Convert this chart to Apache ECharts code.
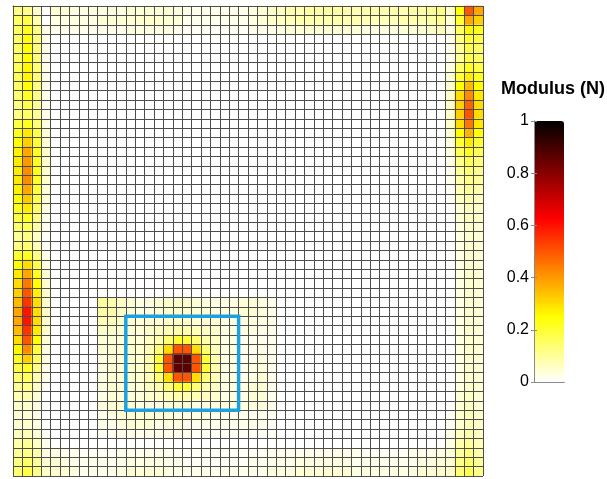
<!DOCTYPE html>
<html><head><meta charset="utf-8">
<script src="https://cdn.jsdelivr.net/npm/echarts@6/dist/echarts.min.js"></script>
<style>html,body{margin:0;padding:0;background:#fff}#c{width:607px;height:479px}</style>
</head><body><div id="c"></div>
<script>
// ---- data (values in hundredths of the colour scale) ----
const nCols = 50, nRows = 50;
const colorTicks = [0, 0.2, 0.4, 0.6, 0.8, 1];
const colorbarTitle = 'Modulus (N)';

// columns 0..3, rows 0..49 (row 0 = top)
const leftCols = [
 [12,12,5,0],[15,18,8,0],[15,22,12,2],[15,24,13,2],[15,25,13,2],[15,25,13,2],[16,26,14,2],[16,26,14,2],[15,25,13,2],[14,22,12,2],
 [12,18,10,1],[12,15,10,2],[18,22,14,3],[22,28,18,4],[25,32,20,4],[27,38,22,5],[28,40,22,5],[28,42,23,5],[28,42,22,5],[27,38,20,4],
 [25,33,18,4],[22,28,15,3],[18,22,12,2],[14,16,9,2],[10,12,6,1],[12,14,7,1],[20,22,12,2],[25,30,18,3],[28,38,22,4],[30,45,25,5],
 [32,50,27,5],[35,55,30,5],[38,60,30,5],[38,60,30,5],[35,55,28,5],[30,50,25,4],[26,42,20,3],[22,32,16,3],[18,22,12,2],[14,16,8,2],
 [10,12,6,1],[7,8,4,0],[5,5,3,0],[4,4,2,0],[4,5,3,0],[6,7,4,1],[8,10,6,2],[10,12,8,3],[12,15,10,4],[14,18,12,5]
];
// columns 46..49, rows 0..49
const rightCols = [
 [5,25,50,38],[4,20,38,32],[3,15,26,22],[2,12,20,18],[2,10,18,15],[2,10,18,15],[3,15,22,18],[4,20,28,22],[5,25,35,25],[5,30,42,28],
 [5,32,48,30],[5,32,50,30],[5,30,45,28],[4,25,36,24],[3,20,28,20],[3,16,22,16],[2,12,17,13],[2,10,14,11],[2,8,12,10],[1,7,10,8],
 [1,6,8,6],[0,4,6,5],[0,4,6,5],[0,3,5,4],[0,3,5,4],[0,3,5,4],[0,3,5,4],[0,3,5,4],[0,3,5,4],[0,3,5,4],
 [0,3,5,4],[0,3,5,4],[0,3,5,4],[0,3,5,4],[0,3,5,4],[0,3,5,4],[0,3,5,4],[0,3,5,4],[0,3,5,4],[0,3,5,4],
 [0,3,5,4],[0,4,6,4],[0,4,6,4],[1,5,7,5],[1,5,7,5],[2,6,8,6],[3,8,10,7],[4,10,13,8],[4,12,15,10],[5,14,17,11]
];
// rows 0..2, columns 4..45
const topRows = [
 [4,4,3,3,3,3,3,3,4, 4,4,4,4,3, 2,2,2,2,2,2,2,3,4,5,6, 8,8,9,9,9,9,8,8,8,8,8,8,8,9,9,10,12],
 [3,3,3,3,3,4,4,4,4, 5,5,5,4,4, 2,2,2,2,2,2,2,3,4,5,6, 7,8,8,8,8,8,8,8,7,7,7,7,8,8,8,9,11],
 [2,2,2,2,2,2,2,2,3, 3,3,3,3,2, 1,1,1,1,1,1,1,2,2,2,3, 4,4,4,4,4,4,4,4,3,3,3,3,4,4,4,5,7]
];
// rows 47..49, columns 4..45
const bottomRows = [
 [3,2,2,1,1, 1,1,2,2,2,2,2,2,1, 1,1,1,1,1,1,1,1,1,2,2, 2,2,2,2,2,2,2,2,1,1,1,1,1,2,2,2,3],
 [4,3,2,2,2, 2,2,2,3,3,3,3,2,2, 1,1,1,1,1,1,1,2,2,2,2, 2,3,3,3,3,3,3,2,2,2,2,2,2,2,3,3,4],
 [5,4,3,2,2, 2,2,3,4,4,4,4,3,2, 2,2,2,2,2,2,2,2,2,3,3, 3,4,4,4,4,4,4,3,3,3,3,3,3,3,4,4,5]
];
// rows 31..45, columns 9..27 (faint halo around the peak)
const haloBlock = [
 [10,8,5,4,3,3,4,5,5,5,4,3,3,3,3,4,4,3,2],
 [9,8,5,4,3,3,4,5,5,5,4,4,3,3,3,4,4,3,2],
 [7,6,5,4,4,4,4,5,5,5,4,4,4,3,3,3,3,3,2],
 [5,5,4,4,4,4,4,5,5,5,5,4,4,3,3,3,3,2,2],
 [4,4,4,5,4,4,5,6,6,6,6,5,4,3,3,2,2,2,2],
 [4,4,4,5,5,5,6,6,6,6,6,6,5,3,3,2,2,2,2],
 [3,4,4,5,5,5,6,6,6,6,6,6,5,3,3,2,2,3,2],
 [3,4,4,5,5,5,6,6,6,6,6,6,5,3,3,2,3,3,2],
 [3,4,4,5,5,5,6,6,6,6,6,6,5,3,3,2,3,4,2],
 [3,4,4,4,4,4,5,6,6,6,6,5,4,3,3,3,4,4,2],
 [3,4,4,4,4,4,4,5,5,5,5,4,3,3,3,3,4,4,2],
 [3,4,4,4,3,3,3,4,4,4,3,3,3,3,3,3,3,3,2],
 [2,3,4,4,4,4,4,4,3,3,3,3,2,2,2,2,2,2,1],
 [2,2,3,4,4,4,3,3,3,2,2,2,2,2,2,2,2,2,1],
 [1,1,2,2,2,2,2,2,2,2,1,1,1,1,1,1,1,1,1]
];
// rows 34..41, columns 14..21 (the central peak)
const peakBlock = [
 [5,6,7,8,8,7,6,5],
 [6,8,14,20,20,14,8,6],
 [7,14,30,50,50,30,14,7],
 [8,20,50,86,86,50,20,8],
 [8,20,50,86,86,50,20,8],
 [7,14,30,50,50,30,14,7],
 [6,8,14,20,20,14,8,6],
 [5,6,7,8,8,7,6,5]
];
// blue box, in grid-node coordinates (x from left, y from top)
const boxCorners = [[12,33],[24,33],[24,43],[12,43],[12,33]];

// ---- assemble ----
const cells = new Map();
function place(block, c0, r0) {
  block.forEach((row, i) => row.forEach((v, j) => { cells.set((c0 + j) + ',' + (r0 + i), v); }));
}
place(leftCols, 0, 0);
place(rightCols, 46, 0);
place(topRows, 4, 0);
place(bottomRows, 4, 47);
place(haloBlock, 9, 31);
place(peakBlock, 14, 34);
const heatData = [];
cells.forEach((v, k) => { if (v > 0) { const [c, r] = k.split(',').map(Number); heatData.push([c, r, v / 100]); } });

const xCats = [], yCats = [];
for (let i = 0; i < nCols; i++) xCats.push(String(i));
for (let i = 0; i < nRows; i++) yCats.push(String(i));

const hot = ['#ffffff','#ffff80','#ffff00','#ffaa00','#ff5500','#ff0000','#aa0000','#550000','#000000'];
const font = "'Liberation Sans', Arial, Helvetica, sans-serif";
const gridLine = '#4d4d4d';
const cbLine = '#8a8a8a';

const chart = echarts.init(document.getElementById('c'), null, {renderer: 'canvas'});
chart.setOption({
  animation: false,
  backgroundColor: '#fff',
  grid: [
    {left: 13, top: 6, width: 470, height: 470},
    {left: 534, top: 121, width: 30, height: 261}
  ],
  xAxis: [
    {type: 'category', gridIndex: 0, data: xCats, z: 5,
     axisLine: {show: true, lineStyle: {color: gridLine, width: 1}}, axisTick: {show: false}, axisLabel: {show: false},
     splitLine: {show: true, interval: 0, lineStyle: {color: gridLine, width: 1}}},
    {type: 'value', gridIndex: 0, min: 0, max: nCols, show: false},
    {type: 'value', gridIndex: 1, min: 0, max: 1, position: 'bottom', z: 10,
     axisLine: {show: true, lineStyle: {color: cbLine}}, axisTick: {show: false}, axisLabel: {show: false}, splitLine: {show: false}},
    {type: 'value', gridIndex: 1, min: 0, max: 1, position: 'top', z: 10,
     axisLine: {show: true, lineStyle: {color: cbLine}}, axisTick: {show: false}, axisLabel: {show: false}, splitLine: {show: false}}
  ],
  yAxis: [
    {type: 'category', gridIndex: 0, data: yCats, inverse: true, z: 5,
     axisLine: {show: true, lineStyle: {color: gridLine, width: 1}}, axisTick: {show: false}, axisLabel: {show: false},
     splitLine: {show: true, interval: 0, lineStyle: {color: gridLine, width: 1}}},
    {type: 'value', gridIndex: 0, min: 0, max: nRows, inverse: true, show: false},
    {type: 'value', gridIndex: 1, min: colorTicks[0], max: colorTicks[colorTicks.length - 1], interval: 0.2, position: 'left', z: 10,
     axisLine: {show: true, lineStyle: {color: cbLine}},
     axisTick: {show: true, inside: true, length: 3, lineStyle: {color: cbLine}},
     axisLabel: {show: true, margin: 5, color: '#000', fontSize: 16, fontFamily: font},
     splitLine: {show: false}},
    {type: 'value', gridIndex: 1, min: 0, max: 1, interval: 0.2, position: 'right', z: 10,
     axisLine: {show: true, lineStyle: {color: cbLine}},
     axisTick: {show: true, inside: true, length: 3, lineStyle: {color: cbLine}},
     axisLabel: {show: false}, splitLine: {show: false}}
  ],
  visualMap: {
    type: 'continuous', seriesIndex: 0, min: 0, max: 1, calculable: false,
    left: 534, top: 121, itemWidth: 30, itemHeight: 261, padding: 0,
    inRange: {color: hot}, text: null, showLabel: false, hoverLink: false
  },
  graphic: [{
    type: 'text', x: 553, y: 89, z: 20,
    style: {text: colorbarTitle, fontFamily: font, fontSize: 18, fontWeight: 'bold', fill: '#000',
            textAlign: 'center', textVerticalAlign: 'middle'}
  }],
  series: [
    {type: 'heatmap', xAxisIndex: 0, yAxisIndex: 0, data: heatData, z: 2,
     itemStyle: {borderWidth: 0}, emphasis: {disabled: true}, progressive: 0},
    {type: 'line', xAxisIndex: 1, yAxisIndex: 1, data: boxCorners, z: 10, symbol: 'none', silent: true,
     lineStyle: {color: '#1ba1e2', width: 3.5, join: 'miter', cap: 'square'}}
  ]
});
</script>
</body></html>
